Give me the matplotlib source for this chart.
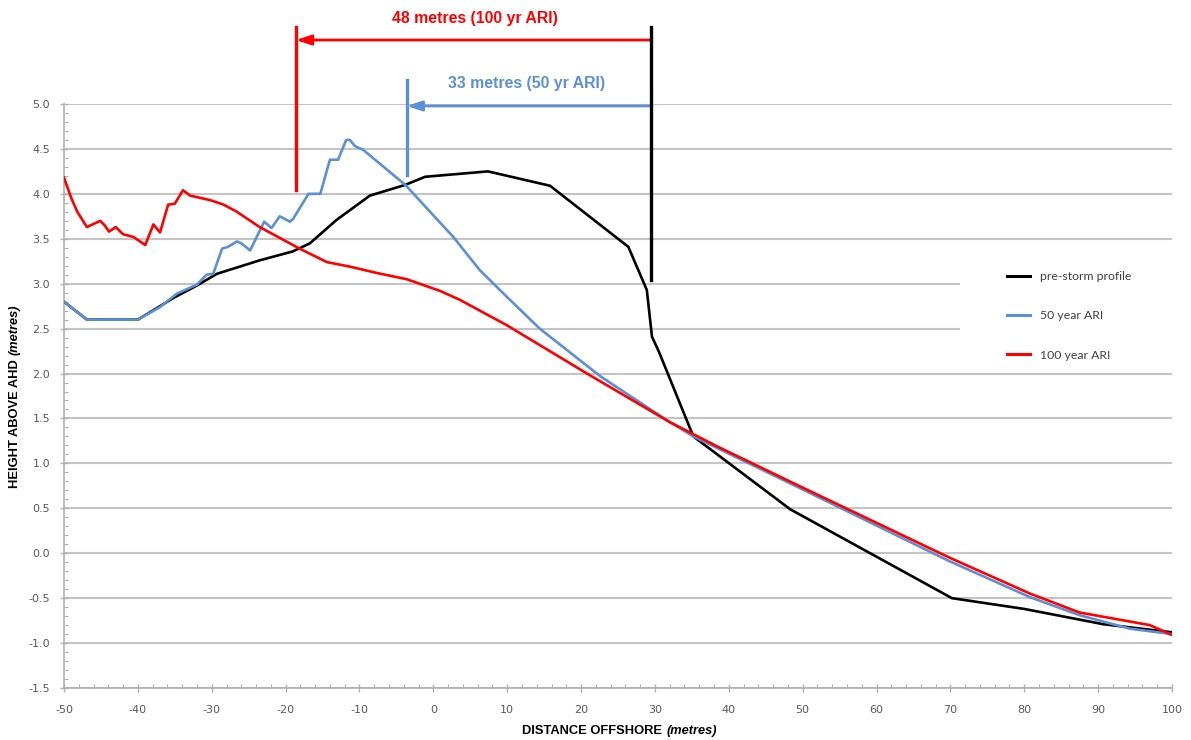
import matplotlib
matplotlib.use("Agg")
import matplotlib.pyplot as plt
from matplotlib.ticker import MultipleLocator, FormatStrFormatter
from matplotlib.patches import Rectangle

plt.rcParams["axes.unicode_minus"] = False

# ---------------- data ----------------
x_pre = [-50, -46.9, -40, -35, -32, -29.3, -23.5, -19, -16.7, -13.1, -8.6, -3.8, -1.1,
         7.4, 15.8, 26.4, 28.9, 29.6, 30.5, 35.2, 48.3, 70.2, 80, 90.7, 100]
y_pre = [2.80, 2.60, 2.60, 2.85, 2.98, 3.11, 3.26, 3.36, 3.45, 3.71, 3.98, 4.10, 4.19,
         4.25, 4.09, 3.41, 2.93, 2.41, 2.25, 1.30, 0.49, -0.50, -0.62, -0.79, -0.88]

x_50 = [-50, -46.9, -40, -37, -34.7, -32, -30.7, -29.8, -28.6, -27.8, -26.6, -26.0,
        -24.8, -22.9, -21.9, -20.8, -19.4, -19.0, -16.9, -15.3, -14.0, -12.9, -11.8,
        -11.3, -10.6, -9.5, -3.8, 2.7, 6.3, 10, 14.4, 22.6, 32.0, 35.2, 50, 69.9,
        80.8, 87.5, 94.3, 100]
y_50 = [2.80, 2.60, 2.60, 2.74, 2.89, 2.99, 3.10, 3.11, 3.39, 3.41, 3.47, 3.45,
        3.37, 3.69, 3.62, 3.75, 3.69, 3.72, 4.00, 4.00, 4.38, 4.38, 4.60,
        4.60, 4.53, 4.49, 4.10, 3.52, 3.15, 2.85, 2.50, 1.97, 1.46, 1.30, 0.71, -0.09,
        -0.49, -0.69, -0.84, -0.90]

x_100 = [-50, -49, -48.2, -46.9, -45.1, -44.5, -43.9, -43.0, -42.0, -40.6, -39.0,
         -37.9, -37.0, -35.9, -35.0, -33.9, -32.9, -30.2, -28.4, -26.6, -23.5, -18.1,
         -14.4, -11.3, -7.7, -3.6, 0.9, 3.6, 9.9, 20.8, 32.0, 38.4, 50, 69.9, 80.8,
         87.5, 97.0, 100]
y_100 = [4.18, 3.95, 3.80, 3.63, 3.70, 3.65, 3.58, 3.63, 3.55, 3.52, 3.43,
         3.66, 3.57, 3.88, 3.89, 4.04, 3.98, 3.93, 3.88, 3.80, 3.63, 3.39,
         3.24, 3.19, 3.12, 3.05, 2.92, 2.82, 2.54, 2.00, 1.46, 1.19, 0.73, -0.05, -0.45,
         -0.66, -0.80, -0.91]

series_labels = ["pre-storm profile", "50 year ARI", "100 year ARI"]
colors = ["#000000", "#5B8FD6", "#FF0000"]

ref_x = 29.4          # pre-storm reference position
retreat_100 = 48
retreat_50 = 33
label_100 = "48 metres (100 yr ARI)"
label_50 = "33 metres (50 yr ARI)"

# ---------------- figure ----------------
fig = plt.figure(figsize=(11.91, 7.40), dpi=100)
ax = fig.add_axes([64/1191, 52/740, (1172-64)/1191, (688-104)/740])
ax.set_xlim(-50, 100)
ax.set_ylim(-1.5, 5.0)
ax.set_axisbelow(True)

ax.plot(x_pre, y_pre, color=colors[0], lw=1.9, label=series_labels[0], zorder=3)
ax.plot(x_50, y_50, color=colors[1], lw=1.9, label=series_labels[1], zorder=4)
ax.plot(x_100, y_100, color=colors[2], lw=1.9, label=series_labels[2], zorder=5)

# ticks & grid
ax.xaxis.set_major_locator(MultipleLocator(10))
ax.xaxis.set_minor_locator(MultipleLocator(2))
ax.yaxis.set_major_locator(MultipleLocator(0.5))
ax.yaxis.set_minor_locator(MultipleLocator(0.1))
ax.yaxis.set_major_formatter(FormatStrFormatter("%.1f"))
ax.grid(axis="y", which="major", color="#c4c4c4", lw=1.5)
for s in ["top", "right"]:
    ax.spines[s].set_visible(False)
for s in ["left", "bottom"]:
    ax.spines[s].set_color("#b0b0b0")
    ax.spines[s].set_linewidth(1.2)
ax.tick_params(which="major", direction="inout", length=6, width=1, color="#b0b0b0",
               labelsize=8, labelcolor="#595959", pad=7)
ax.tick_params(which="minor", direction="in", length=3, width=0.8, color="#b0b0b0")
ax.tick_params(axis="x", which="major", pad=9)

# white legend area
ax.add_patch(Rectangle((0.809, 0.545), 0.2, 0.205, transform=ax.transAxes,
                       facecolor="white", edgecolor="none", zorder=1, clip_on=False))
leg = ax.legend(loc="upper left", bbox_to_anchor=(0.851, 0.7135), frameon=False,
                borderpad=0, borderaxespad=0, handlelength=1.9, handletextpad=0.8,
                labelspacing=2.3, prop={"family": "Lato", "size": 8.8})
for t in leg.get_texts():
    t.set_color("#404040")
for h in leg.get_lines():
    h.set_linewidth(2.2)

# axis labels
fig.text(662/1191, 1-731/740, "DISTANCE OFFSHORE", ha="right", va="center",
         fontsize=9.3, fontweight="bold", family="Liberation Sans")
fig.text(667/1191, 1-731/740, "(metres)", ha="left", va="center",
         fontsize=9.2, fontweight="bold", style="italic", family="Liberation Sans")
fig.text(15/1191, 1-488/740, "HEIGHT ABOVE AHD", rotation=90, ha="center", va="bottom",
         fontsize=9.3, fontweight="bold", family="Liberation Sans")
fig.text(15/1191, 1-355/740, "(metres)", rotation=90, ha="center", va="bottom",
         fontsize=9.2, fontweight="bold", style="italic", family="Liberation Sans")

# annotations (retreat distances)
x_red = ref_x - retreat_100
x_blue = ref_x - retreat_50
ax.plot([ref_x, ref_x], [5.857, 3.04], color="black", lw=2.4, clip_on=False, zorder=6)
ax.plot([x_red, x_red], [5.857, 4.04], color=colors[2], lw=2.4, clip_on=False, zorder=6)
ax.plot([x_blue, x_blue], [5.267, 4.21], color=colors[1], lw=2.4, clip_on=False, zorder=6)
ax.annotate("", xy=(x_red, 5.712), xytext=(ref_x, 5.712), annotation_clip=False,
            arrowprops=dict(arrowstyle="-|>,head_length=0.9,head_width=0.3",
                            color=colors[2], lw=2.0, shrinkA=0, shrinkB=0))
ax.annotate("", xy=(x_blue, 4.978), xytext=(ref_x, 4.978), annotation_clip=False,
            arrowprops=dict(arrowstyle="-|>,head_length=0.9,head_width=0.3",
                            color=colors[1], lw=2.0, shrinkA=0, shrinkB=0))
ax.text(5.64, 5.957, label_100, color=colors[2], ha="center", va="center",
        fontsize=11.4, fontweight="bold", family="Liberation Sans", clip_on=False)
ax.text(12.68, 5.223, label_50, color=colors[1], ha="center", va="center",
        fontsize=11.4, fontweight="bold", family="Liberation Sans", clip_on=False)

fig.savefig("out.png", dpi=100)
